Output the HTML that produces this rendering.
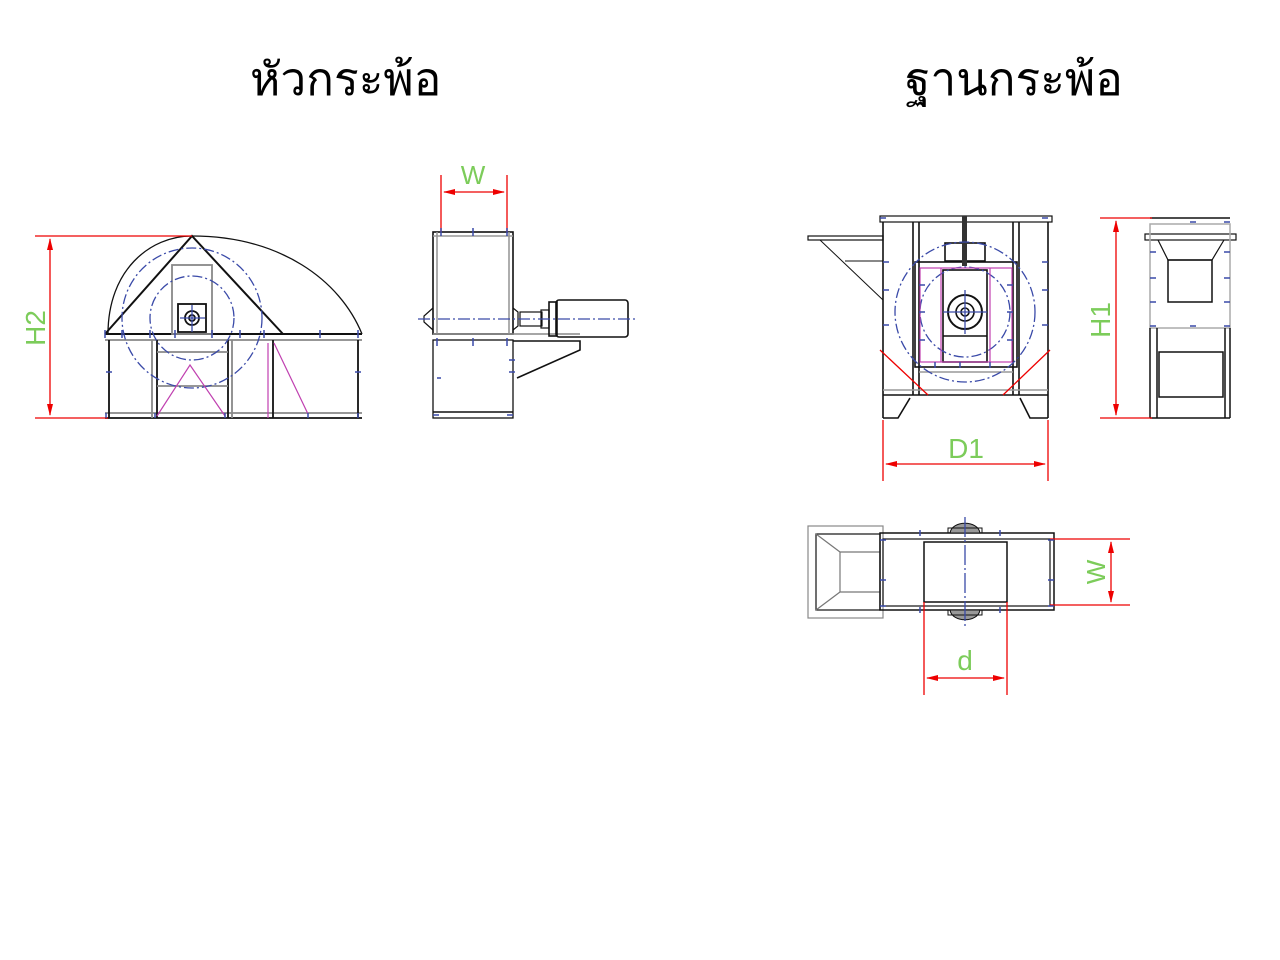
<!DOCTYPE html>
<html><head><meta charset="utf-8">
<style>
html,body{margin:0;padding:0;background:#fff;width:1280px;height:960px;overflow:hidden}
.t{position:absolute;top:43px;font-family:"Liberation Sans",sans-serif;font-size:46px;color:#000;white-space:nowrap}
</style></head><body>
<div class="t" style="left:250px">หัวกระพ้อ</div>
<div class="t" style="left:905px">ฐานกระพ้อ</div>
<svg width="1280" height="960" style="position:absolute;left:0;top:0" xmlns="http://www.w3.org/2000/svg">
<defs>
<marker id="a" markerWidth="12" markerHeight="8" refX="11" refY="4" orient="auto-start-reverse" markerUnits="userSpaceOnUse"><path d="M0,1 L12,4 L0,7z" fill="#e00"/></marker>
</defs>
<g fill="none" stroke="#111" stroke-width="1.8">
<path d="M108,334 C108,270 150,236 192,236 C280,236 340,280 362,334" stroke-width="1.3"/>
<path d="M105,334 L192,236 L283,334" stroke-width="2"/>
<line x1="105" y1="334" x2="362" y2="334" stroke-width="2"/>
<line x1="105" y1="340" x2="362" y2="340" stroke="#888"/>
<line x1="105" y1="418" x2="362" y2="418"/>
<line x1="105" y1="413" x2="362" y2="413" stroke="#888"/>
<line x1="109" y1="340" x2="109" y2="418"/>
<line x1="358" y1="340" x2="358" y2="418"/>
<line x1="152" y1="340" x2="152" y2="418" stroke="#888"/>
<line x1="157" y1="340" x2="157" y2="418"/>
<line x1="228" y1="340" x2="228" y2="418"/>
<line x1="232" y1="340" x2="232" y2="418" stroke="#888"/>
<line x1="273" y1="340" x2="273" y2="418"/>
<line x1="157" y1="352" x2="228" y2="352" stroke="#888"/>
<line x1="157" y1="386" x2="228" y2="386" stroke="#888"/>
<rect x="172" y="265" width="40" height="69" stroke="#888"/>
<rect x="178" y="304" width="28" height="28"/>
<circle cx="192" cy="318" r="7"/>
<circle cx="192" cy="318" r="3"/>
</g>
<g fill="none" stroke="#3a4aa8" stroke-width="1.3" stroke-dasharray="10,3,2,3">
<circle cx="192" cy="318" r="70"/>
<circle cx="192" cy="318" r="42"/>
<line x1="180" y1="318" x2="205" y2="318" stroke-dasharray="none"/>
<line x1="192" y1="305" x2="192" y2="332" stroke-dasharray="none"/>
</g>
<g fill="none" stroke="#c040b0" stroke-width="1.2">
<path d="M157,416 L190,365 L225,416"/>
<line x1="268" y1="343" x2="268" y2="418"/>
<line x1="274" y1="343" x2="308" y2="414"/>
</g>
<g stroke="#e00" stroke-width="1.3" fill="none">
<line x1="35" y1="236" x2="192" y2="236"/>
<line x1="35" y1="418" x2="108" y2="418"/>
<line x1="50" y1="239" x2="50" y2="415" marker-start="url(#a)" marker-end="url(#a)"/>
</g>
<text x="0" y="0" transform="translate(45,328) rotate(-90)" text-anchor="middle" font-family="Liberation Sans,sans-serif" font-size="28" fill="#7ccc5a">H2</text>

<g fill="none" stroke="#111" stroke-width="1.6">
<rect x="433" y="232" width="80" height="102"/>
<line x1="433" y1="236" x2="513" y2="236" stroke="#999"/>
<line x1="437" y1="232" x2="437" y2="334" stroke="#999"/>
<line x1="509" y1="232" x2="509" y2="334" stroke="#999"/>
<rect x="433" y="340" width="80" height="78" stroke-width="1.3"/>
<line x1="433" y1="412" x2="513" y2="412"/>
<line x1="433" y1="334" x2="580" y2="334" stroke="#888"/>
<path d="M513,341 L580,341 L580,350 L517,378"/>
<path d="M433,308 L424,316 L424,322 L433,330" stroke-width="1.2"/>
<path d="M513,308 L518,312 L518,326 L513,330" stroke-width="1.2"/>
<rect x="520" y="312" width="22" height="14" stroke-width="1.2"/>
<rect x="541" y="310" width="8" height="18" stroke-width="1.2"/>
<rect x="549" y="302" width="8" height="34"/>
<rect x="556" y="300" width="72" height="37" rx="3"/>
</g>
<line x1="418" y1="319" x2="636" y2="319" stroke="#3a4aa8" stroke-width="1.3" stroke-dasharray="12,3,2,3"/>
<g stroke="#e00" stroke-width="1.3" fill="none">
<line x1="441" y1="175" x2="441" y2="232"/>
<line x1="507" y1="175" x2="507" y2="232"/>
<line x1="444" y1="192" x2="504" y2="192" marker-start="url(#a)" marker-end="url(#a)"/>
</g>
<text x="473" y="184" text-anchor="middle" font-family="Liberation Sans,sans-serif" font-size="26" fill="#7ccc5a">W</text>

<g fill="none" stroke="#111" stroke-width="1.6">
<rect x="880" y="216" width="172" height="6" stroke-width="1.2"/>
<line x1="883" y1="222" x2="883" y2="418"/>
<line x1="1048" y1="222" x2="1048" y2="418"/>
<line x1="913" y1="222" x2="913" y2="395"/>
<line x1="919" y1="222" x2="919" y2="395"/>
<line x1="1013" y1="222" x2="1013" y2="395"/>
<line x1="1019" y1="222" x2="1019" y2="395"/>
<rect x="808" y="236" width="75" height="4" stroke-width="1.2"/>
<line x1="820" y1="240" x2="883" y2="300" stroke-width="1"/>
<line x1="845" y1="261" x2="883" y2="261" stroke-width="1"/>
<rect x="915" y="262" width="102" height="105"/>
<rect x="943" y="270" width="44" height="92"/>
<line x1="943" y1="336" x2="987" y2="336"/>
<rect x="945" y="243" width="40" height="18"/>
<line x1="883" y1="395" x2="1048" y2="395"/>
<line x1="883" y1="390" x2="1048" y2="390" stroke="#999"/>
<line x1="919" y1="372" x2="1013" y2="372" stroke="#999"/>
<path d="M883,418 L898,418 L910,398"/>
<path d="M1048,418 L1030,418 L1020,398"/>
<rect x="962" y="216" width="5" height="50" fill="#333" stroke="none"/>
<circle cx="965" cy="312" r="17" stroke-width="2"/>
<circle cx="965" cy="312" r="9"/>
<circle cx="965" cy="312" r="4"/>
</g>
<g fill="none" stroke="#3a4aa8" stroke-width="1.3" stroke-dasharray="10,3,2,3">
<circle cx="965" cy="312" r="70"/>
<circle cx="965" cy="312" r="45"/>
<line x1="943" y1="312" x2="987" y2="312" stroke-dasharray="none"/>
<line x1="965" y1="290" x2="965" y2="334" stroke-dasharray="none"/>
</g>
<g fill="none" stroke="#c040b0" stroke-width="1.2">
<rect x="920" y="268" width="92" height="94"/>
<line x1="941" y1="268" x2="941" y2="362"/>
<line x1="990" y1="268" x2="990" y2="362"/>
</g>
<g stroke="#e00" stroke-width="1.3" fill="none">
<line x1="880" y1="350" x2="928" y2="395"/>
<line x1="1050" y1="350" x2="1003" y2="395"/>
<line x1="883" y1="420" x2="883" y2="481"/>
<line x1="1048" y1="420" x2="1048" y2="481"/>
<line x1="886" y1="464" x2="1045" y2="464" marker-start="url(#a)" marker-end="url(#a)"/>
</g>
<text x="966" y="458" text-anchor="middle" font-family="Liberation Sans,sans-serif" font-size="28" fill="#7ccc5a">D1</text>

<g fill="none" stroke="#111" stroke-width="1.5">
<line x1="1150" y1="218" x2="1230" y2="218"/>
<rect x="1145" y="234" width="91" height="6" stroke-width="1.2"/>
<rect x="1150" y="224" width="80" height="104" stroke="#aaa"/>
<path d="M1158,240 L1168,260 L1212,260 L1224,240" stroke-width="1.2"/>
<rect x="1168" y="260" width="44" height="42"/>
<line x1="1150" y1="328" x2="1150" y2="418"/>
<line x1="1230" y1="328" x2="1230" y2="418"/>
<line x1="1157" y1="328" x2="1157" y2="418"/>
<line x1="1225" y1="328" x2="1225" y2="418"/>
<rect x="1159" y="352" width="64" height="45"/>
<line x1="1150" y1="418" x2="1230" y2="418"/>
</g>
<g stroke="#e00" stroke-width="1.3" fill="none">
<line x1="1100" y1="218" x2="1152" y2="218"/>
<line x1="1100" y1="418" x2="1152" y2="418"/>
<line x1="1116" y1="221" x2="1116" y2="415" marker-start="url(#a)" marker-end="url(#a)"/>
</g>
<text x="0" y="0" transform="translate(1110,320) rotate(-90)" text-anchor="middle" font-family="Liberation Sans,sans-serif" font-size="28" fill="#7ccc5a">H1</text>

<g fill="none" stroke="#111" stroke-width="1.5">
<rect x="808" y="526" width="75" height="92" stroke="#888" stroke-width="1.2"/>
<rect x="816" y="534" width="64" height="76" stroke-width="1.2"/>
<path d="M816,534 L840,552 L880,552 M816,610 L840,592 L880,592 M840,552 L840,592" stroke="#777" stroke-width="1.2"/>
<rect x="880" y="533" width="174" height="77"/>
<rect x="883" y="539" width="167" height="67" stroke-width="1.2"/>
<rect x="924" y="542" width="83" height="60"/>
<path d="M950,533 C952,520 978,520 980,533 Z" fill="#999" stroke-width="1"/>
<path d="M950,610 C952,623 978,623 980,610 Z" fill="#999" stroke-width="1"/>
<rect x="948" y="528" width="34" height="5" stroke-width="1"/>
<rect x="948" y="610" width="34" height="5" stroke-width="1"/>
</g>
<line x1="965" y1="517" x2="965" y2="628" stroke="#3a4aa8" stroke-width="1.3" stroke-dasharray="20,3,2,3"/>
<g stroke="#e00" stroke-width="1.3" fill="none">
<line x1="1050" y1="539" x2="1130" y2="539"/>
<line x1="1050" y1="605" x2="1130" y2="605"/>
<line x1="1111" y1="542" x2="1111" y2="602" marker-start="url(#a)" marker-end="url(#a)"/>
<line x1="924" y1="602" x2="924" y2="695"/>
<line x1="1007" y1="602" x2="1007" y2="695"/>
<line x1="927" y1="678" x2="1004" y2="678" marker-start="url(#a)" marker-end="url(#a)"/>
</g>
<text x="0" y="0" transform="translate(1105,572) rotate(-90)" text-anchor="middle" font-family="Liberation Sans,sans-serif" font-size="26" fill="#7ccc5a">W</text>
<text x="965" y="670" text-anchor="middle" font-family="Liberation Sans,sans-serif" font-size="28" fill="#7ccc5a">d</text>

<g stroke="#3a4aa8" stroke-width="1.5">
<path d="M105,330v8M122,330v8M150,330v8M175,330v8M212,330v8M240,330v8M264,330v8M320,330v8M358,330v8M106,418v-5M155,418v-5M225,418v-5M308,418v-5M358,418v-5M106,372h6M355,372h6"/>
<path d="M441,228v8M473,228v8M507,228v8M437,338v8M473,338v8M507,338v8M433,415h6M507,415h6M437,378h4M509,372h6M509,360h6"/>
<path d="M880,218h6M1048,218h-6M883,262h6M1048,262h-6M883,290h6M1048,290h-6M883,325h6M1048,325h-6M919,285h6M1013,285h-6M919,312h6M1013,312h-6M919,340h6M1013,340h-6M935,362v6M960,362v6M990,362v6"/>
<path d="M1150,252h6M1230,252h-6M1150,278h6M1230,278h-6M1150,302h6M1230,302h-6M1150,326h6M1190,326h6M1230,326h-6M1190,222h6M1230,222h-6"/>
<path d="M880,540h6M880,580h6M880,606h6M1054,540h-6M1054,580h-6M1054,606h-6M920,530v6M1000,530v6M920,607v6M1000,607v6"/>
</g>
</svg>
</body></html>
